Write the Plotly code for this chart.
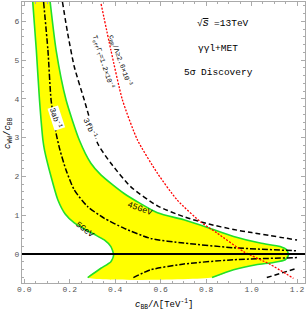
import plotly.graph_objects as go

# 5 GeV contour (left boundary of band), top -> bottom
g5_x = [0.036, 0.053, 0.067, 0.082, 0.089, 0.118, 0.148, 0.180, 0.220, 0.268, 0.310, 0.352, 0.381, 0.393, 0.381, 0.337, 0.279]
g5_y = [6.60, 5.26, 3.97, 2.94, 2.68, 1.99, 1.39, 1.03, 0.80, 0.63, 0.50, 0.36, 0.19, -0.03, -0.20, -0.37, -0.61]
# 45 GeV contour (right boundary of band), top -> bottom
g45_x = [0.112, 0.140, 0.184, 0.242, 0.293, 0.337, 0.439, 0.586, 0.702, 0.812, 0.921, 1.038, 1.126, 1.155, 1.162, 1.148, 1.096, 1.020, 0.921, 0.826]
g45_y = [6.60, 5.26, 3.97, 2.94, 2.34, 2.04, 1.56, 1.06, 0.88, 0.67, 0.45, 0.28, 0.19, 0.10, -0.03, -0.15, -0.22, -0.28, -0.41, -0.61]

# 3 ab^-1 (dash-dot)
ab_up_x = [0.085, 0.104, 0.118, 0.140, 0.157, 0.184, 0.220, 0.279, 0.352, 0.440, 0.556, 0.702, 0.921, 1.200]
ab_up_y = [6.50, 5.26, 3.97, 3.11, 2.68, 2.16, 1.65, 1.22, 0.92, 0.66, 0.40, 0.28, 0.16, 0.08]
ab_lo_x = [0.480, 0.556, 0.702, 0.921, 1.200]
ab_lo_y = [-0.61, -0.41, -0.26, -0.15, -0.095]

# 3 fb^-1 (dashed)
fb_up_x = [0.168, 0.191, 0.220, 0.264, 0.323, 0.381, 0.469, 0.586, 0.702, 0.812, 0.921, 1.000, 1.200]
fb_up_y = [6.50, 5.69, 4.83, 3.97, 2.85, 2.34, 1.73, 1.24, 0.96, 0.77, 0.63, 0.55, 0.36]
fb_lo_x = [1.067, 1.200]
fb_lo_y = [-0.61, -0.37]

# c_BB/Lambda limit (red dotted)
red_x = [0.338, 0.381, 0.432, 0.498, 0.586, 0.673, 0.775, 0.848, 0.965, 1.082, 1.184]
red_y = [6.45, 5.26, 3.97, 2.94, 2.08, 1.39, 0.83, 0.54, 0.06, -0.27, -0.63]

fig = go.Figure()

# yellow band
fig.add_trace(go.Scatter(x=g5_x + g45_x[::-1], y=g5_y + g45_y[::-1], fill="toself",
                         fillcolor="#FFFF00", line=dict(width=0, shape="spline", smoothing=0.6),
                         mode="lines", hoverinfo="skip", showlegend=False))
for xs, ys in [(g5_x, g5_y), (g45_x, g45_y)]:
    fig.add_trace(go.Scatter(x=xs, y=ys, mode="lines",
                             line=dict(color="#22E02A", width=1.6, shape="spline", smoothing=0.6),
                             showlegend=False))
for xs, ys in [(ab_up_x, ab_up_y), (ab_lo_x, ab_lo_y)]:
    fig.add_trace(go.Scatter(x=xs, y=ys, mode="lines",
                             line=dict(color="black", width=1.5, dash="6px,2px,2px,2px",
                                       shape="spline", smoothing=0.6),
                             showlegend=False))
for xs, ys in [(fb_up_x, fb_up_y), (fb_lo_x, fb_lo_y)]:
    fig.add_trace(go.Scatter(x=xs, y=ys, mode="lines",
                             line=dict(color="black", width=1.5, dash="5px,3px",
                                       shape="spline", smoothing=0.6),
                             showlegend=False))
fig.add_trace(go.Scatter(x=red_x, y=red_y, mode="lines",
                         line=dict(color="#FF0000", width=1.3, dash="2px,1.5px",
                                   shape="spline", smoothing=0.6),
                         showlegend=False))
# y = 0 line
fig.add_shape(type="line", xref="paper", yref="y", x0=0, x1=1, y0=0, y1=0,
              line=dict(color="black", width=2))

mono = "Liberation Mono"
ann = []
def add(text, x, y, angle=0, size=8, bg=None, xref="x", yref="y", color="black"):
    ann.append(dict(text=text, x=x, y=y, xref=xref, yref=yref, showarrow=False,
                    xanchor="center", yanchor="middle",
                    textangle=angle, font=dict(family=mono, size=size, color=color),
                    bgcolor=bg, borderpad=0))

add("3ab<sup>-1</sup>", 0.140, 3.50, angle=72, size=8, bg="white")
add("3fb<sup>-1</sup>", 0.293, 3.25, angle=65, size=8, bg="white")
add("T<sub>eff</sub>Γ<sub>T</sub>=1.2×10<sup>-4</sup>", 0.348, 4.97, angle=72, size=7)
add("c<sub>BB</sub>/Λ≥2.6×10<sup>-3</sup>", 0.425, 5.0, angle=70, size=7)
add("45GeV", 0.508, 1.16, angle=20, size=8.5)
add("5GeV", 0.265, 0.61, angle=38, size=8.5)
# title texts
add("√<span style='text-decoration:overline'><i>S</i></span> =13TeV", 0.876, 5.95, size=9.5)
add("γγl+MET", 0.854, 5.31, size=9.5)
add("5σ Discovery", 0.854, 4.69, size=9.5)
# axis titles
add("<i>c</i><sub>BB</sub>/Λ[TeV<sup>-1</sup>]", 0.5, -0.075, size=9, xref="paper", yref="paper")
add("<i>c</i><sub>WW</sub>/<i>c</i><sub>BB</sub>", -0.046, 0.534, angle=-90, size=9,
    xref="paper", yref="paper")
fig.update_layout(annotations=ann)

axis_common = dict(showgrid=False, zeroline=False, showline=True, linecolor="#AAAAAA", linewidth=1,
                   mirror="allticks", ticks="inside", ticklen=4, tickcolor="#AAAAAA",
                   automargin=False,
                   tickfont=dict(family=mono, size=8, color="#555555"))
fig.update_xaxes(range=[-0.01, 1.235], dtick=0.2, tick0=0, tickformat=".1f",
                 ticklabelstandoff=-2,
                 minor=dict(dtick=0.05, ticks="inside", ticklen=2, tickcolor="#AAAAAA"),
                 **axis_common)
fig.update_yaxes(range=[-0.75, 6.5], dtick=1, tick0=0,
                 minor=dict(dtick=0.2, ticks="inside", ticklen=2, tickcolor="#AAAAAA"),
                 **axis_common)
fig.update_layout(width=307, height=310, margin=dict(l=22, r=2, t=2, b=27),
                  plot_bgcolor="white", paper_bgcolor="white")
fig.write_html("out.html", config={"displayModeBar": False},
               post_script="document.body.style.margin='0px';")
